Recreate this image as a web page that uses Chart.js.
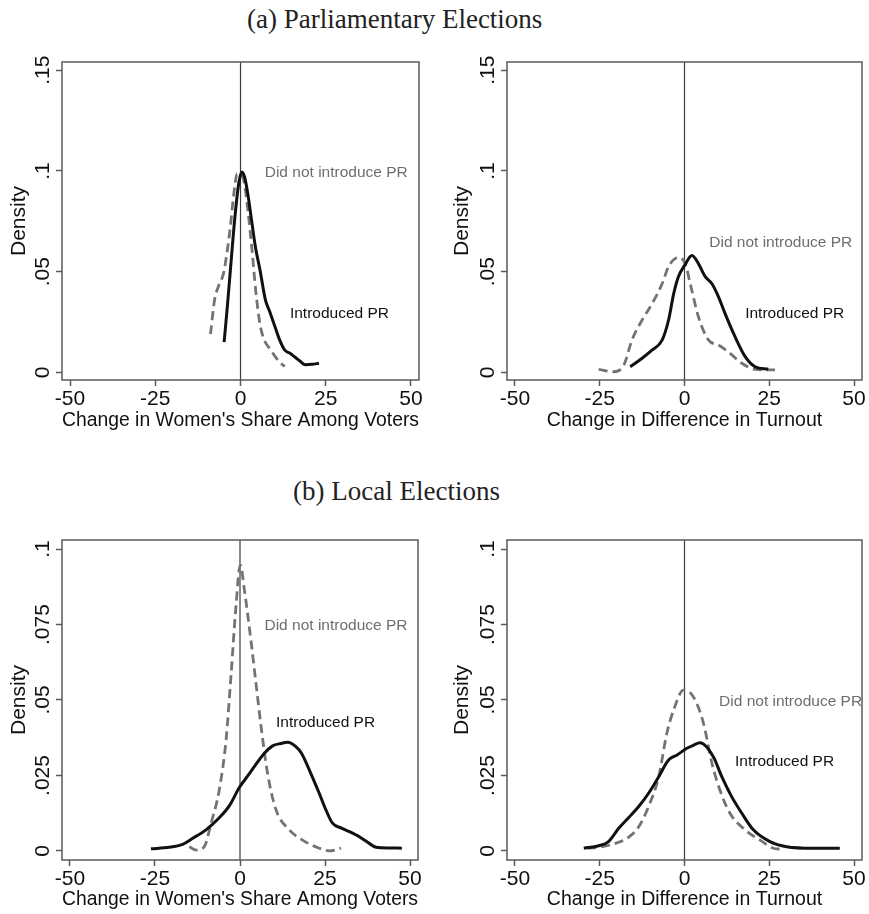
<!DOCTYPE html>
<html>
<head>
<meta charset="utf-8">
<script src="https://cdn.jsdelivr.net/npm/chart.js@4.4.1/dist/chart.umd.min.js"></script>
<style>
  body { margin: 0; background: #fff; width: 869px; height: 914px; position: relative; overflow: hidden; }
  .t { position: absolute; font-family: "Liberation Serif", serif; font-size: 27px; line-height: 27px; color: #222; white-space: nowrap; }
  canvas { position: absolute; }
</style>
</head>
<body>
<div class="t" style="left:247px;top:6px">(a) Parliamentary Elections</div>
<div class="t" style="left:293px;top:478px">(b) Local Elections</div>
<canvas id="a1" width="434" height="400" style="left:0;top:40px"></canvas>
<canvas id="a2" width="434" height="400" style="left:435px;top:40px"></canvas>
<canvas id="b1" width="434" height="394" style="left:0;top:520px"></canvas>
<canvas id="b2" width="434" height="394" style="left:435px;top:520px"></canvas>
<script>
const xTicks = [-50, -25, 0, 25, 50];
const yTicksParl = [0, 0.05, 0.1, 0.15];
const yTicksLocal = [0, 0.025, 0.05, 0.075, 0.1];
const titleShare = "Change in Women's Share Among Voters";
const titleTurnout = 'Change in Difference in Turnout';
const labelPR = 'Introduced PR';
const labelNoPR = 'Did not introduce PR';

// (a) parliamentary, women's share among voters
const parlShareX_PR = [-4.8, -4.0, -3.1, -1.7, -0.5, 0.4, 1.2, 2.2, 3.2, 4.4, 5.7, 7.3, 8.6, 10.1, 11.5, 13.0, 14.5, 16.0, 17.5, 19.0, 21.0, 23.0];
const parlShareY_PR = [0.015, 0.030, 0.048, 0.076, 0.094, 0.0995, 0.097, 0.088, 0.076, 0.062, 0.051, 0.036, 0.030, 0.0227, 0.016, 0.011, 0.0095, 0.0075, 0.0055, 0.0038, 0.004, 0.0045];
const parlShareX_NoPR = [-8.8, -7.6, -6.4, -5.0, -4.0, -3.0, -2.0, -1.0, 0.0, 1.0, 2.2, 3.3, 4.5, 5.7, 7.0, 8.5, 10.1, 11.5, 13.0];
const parlShareY_NoPR = [0.019, 0.036, 0.043, 0.049, 0.059, 0.072, 0.088, 0.0985, 0.0985, 0.095, 0.080, 0.062, 0.040, 0.024, 0.016, 0.012, 0.008, 0.005, 0.003];

// (a) parliamentary, difference in turnout
const parlTurnX_PR = [-16.0, -12.5, -9.6, -6.6, -4.7, -3.2, -1.8, 0, 2.2, 4.1, 6.1, 8.1, 10.0, 12.0, 14.9, 17.9, 20.8, 24.7];
const parlTurnY_PR = [0.0028, 0.007, 0.011, 0.016, 0.026, 0.039, 0.0475, 0.053, 0.058, 0.054, 0.0475, 0.044, 0.0376, 0.029, 0.0177, 0.0078, 0.0028, 0.0015];
const parlTurnX_NoPR = [-25.3, -20.9, -17.9, -15.5, -12.5, -9.6, -6.6, -4.7, -1.8, 0.2, 1.7, 4.1, 7.1, 10.0, 12.9, 16.9, 20.8, 26.7];
const parlTurnY_NoPR = [0.0015, 0.0003, 0.0036, 0.016, 0.026, 0.034, 0.044, 0.0525, 0.057, 0.054, 0.044, 0.0276, 0.016, 0.0136, 0.0102, 0.0045, 0.0015, 0.0012];

// (b) local, women's share among voters
const localShareX_PR = [-26.2, -20.8, -16.9, -13.9, -10.0, -6.1, -3.1, -0.2, 2.7, 4.2, 7.1, 9.6, 12.0, 14.0, 16.5, 18.0, 20.4, 23.3, 25.3, 27.2, 30.0, 32.2, 35.1, 38.0, 40.0, 44.0, 47.6];
const localShareY_PR = [0.0007, 0.0012, 0.0022, 0.0042, 0.007, 0.011, 0.015, 0.021, 0.0255, 0.0279, 0.0323, 0.0348, 0.0356, 0.036, 0.0345, 0.0325, 0.0268, 0.0191, 0.0135, 0.0092, 0.0075, 0.0064, 0.0047, 0.0025, 0.0012, 0.001, 0.0009];
const localShareX_NoPR = [-14.9, -12.9, -10.5, -8.5, -6.1, -4.1, -2.6, -1.2, 0.1, 1.3, 3.2, 4.7, 6.2, 8.1, 10.6, 14.5, 18.4, 23.3, 26.3, 29.7];
const localShareY_NoPR = [0.0014, 0.0003, 0.0014, 0.0092, 0.0202, 0.0368, 0.0588, 0.0809, 0.0947, 0.0864, 0.0699, 0.0555, 0.0412, 0.0257, 0.0136, 0.007, 0.0036, 0.0009, 0.0, 0.0009];

// (b) local, difference in turnout
const localTurnX_PR = [-29.7, -25.3, -22.4, -19.4, -16.5, -13.5, -10.6, -7.6, -4.7, -2.2, 0.7, 2.6, 4.6, 8.5, 11.0, 13.9, 16.9, 20.3, 25.2, 30.1, 37.9, 45.8];
const localTurnY_PR = [0.0009, 0.0017, 0.0031, 0.0075, 0.011, 0.0147, 0.0191, 0.0246, 0.0301, 0.0318, 0.034, 0.035, 0.0358, 0.0312, 0.0246, 0.018, 0.0125, 0.007, 0.0031, 0.0014, 0.0009, 0.0009];
const localTurnX_NoPR = [-28.7, -24.3, -20.4, -17.9, -16.5, -13.5, -10.6, -7.6, -5.2, -3.2, -0.3, 2.6, 5.6, 8.1, 10.5, 13.4, 18.4, 22.3, 26.2, 28.6];
const localTurnY_NoPR = [0.0009, 0.0014, 0.0025, 0.0036, 0.0045, 0.008, 0.0147, 0.0246, 0.039, 0.0467, 0.0533, 0.0511, 0.0423, 0.029, 0.020, 0.0125, 0.0065, 0.0036, 0.0009, 0.0006];

Chart.defaults.font.family = '"Liberation Sans", Arial, sans-serif';
Chart.defaults.color = '#111';

const pts = (xs, ys) => xs.map((x, i) => ({x, y: ys[i]}));
const fmt = v => v === 0 ? '0' : String(v).replace(/^0/, '');

// frame round the plot region + the two curve labels
const notesPlugin = {
  id: 'notes',
  afterDatasetsDraw(chart, args, opts) {
    const {ctx, chartArea: a, scales: {x, y}} = chart;
    ctx.save();
    ctx.strokeStyle = '#5a5a5a';
    ctx.lineWidth = 1.5;
    ctx.strokeRect(a.left, a.top, a.width, a.height);
    ctx.font = '15.5px "Liberation Sans"';
    ctx.textBaseline = 'middle';
    ctx.textAlign = 'left';
    opts.items.forEach(t => {
      ctx.fillStyle = t.color;
      ctx.fillText(t.text, x.getPixelForValue(t.x), y.getPixelForValue(t.y));
    });
    ctx.restore();
  }
};

function makePanel(id, p) {
  return new Chart(document.getElementById(id), {
    type: 'scatter',
    data: {
      datasets: [
        {data: pts(p.xPR, p.yPR), borderColor: '#111', borderWidth: 3, order: 1},
        {data: pts(p.xNo, p.yNo), borderColor: '#737373', borderWidth: 2.8, borderDash: [9, 5], order: 2},
        {data: pts([0, 0], [p.yMin, p.yMax]), borderColor: '#3c3c3c', borderWidth: 1.2, order: 3}
      ]
    },
    options: {
      responsive: false,
      animation: false,
      devicePixelRatio: 1,
      showLine: true,
      elements: {
        point: {radius: 0},
        line: {cubicInterpolationMode: 'monotone', borderJoinStyle: 'round'}
      },
      layout: {padding: {left: 0, top: p.top, right: p.right, bottom: 0}},
      plugins: {
        legend: {display: false},
        tooltip: {enabled: false},
        notes: {items: [
          {text: labelNoPR, x: p.noteNo[0], y: p.noteNo[1], color: '#6e6e6e'},
          {text: labelPR, x: p.notePR[0], y: p.notePR[1], color: '#111'}
        ]}
      },
      scales: {
        x: {
          type: 'linear', min: -52.35, max: 52.35,
          afterBuildTicks: s => { s.ticks = xTicks.map(v => ({value: v})); },
          afterFit: s => { s.height = p.xH; },
          ticks: {font: {size: 21}, color: '#111', padding: p.xPad, maxRotation: 0, autoSkip: false},
          grid: {drawOnChartArea: false, tickLength: 6, color: '#5a5a5a', tickWidth: 1.5},
          border: {display: false},
          title: {display: true, text: p.xTitle, font: {size: 19.5}, color: '#111', padding: {top: 0, bottom: p.xTitlePad}}
        },
        y: {
          type: 'linear', min: p.yMin, max: p.yMax,
          afterBuildTicks: s => { s.ticks = p.yTicks.map(v => ({value: v})); },
          afterFit: s => { s.width = p.yW; },
          ticks: {font: {size: 21}, color: '#111', minRotation: 90, maxRotation: 90, crossAlign: 'center', padding: p.yPad, callback: fmt},
          grid: {drawOnChartArea: false, tickLength: 6, color: '#5a5a5a', tickWidth: 1.5},
          border: {display: false},
          title: {display: true, text: 'Density', font: {size: 21}, color: '#111', padding: {top: p.yTitlePad, bottom: 0}}
        }
      }
    },
    plugins: [notesPlugin]
  });
}

makePanel('a1', {
  xPR: parlShareX_PR, yPR: parlShareY_PR, xNo: parlShareX_NoPR, yNo: parlShareY_NoPR,
  yTicks: yTicksParl, yMin: -0.0038, yMax: 0.1541, xTitle: titleShare,
  top: 22, right: 15, yW: 62, xH: 60, xPad: 1, xTitlePad: 7.3, yPad: -1.6, yTitlePad: 6.4,
  noteNo: [7.1, 0.0992], notePR: [14.5, 0.029]
});
makePanel('a2', {
  xPR: parlTurnX_PR, yPR: parlTurnY_PR, xNo: parlTurnX_NoPR, yNo: parlTurnY_NoPR,
  yTicks: yTicksParl, yMin: -0.0038, yMax: 0.1541, xTitle: titleTurnout,
  top: 22, right: 7, yW: 72, xH: 60, xPad: 1, xTitlePad: 7.3, yPad: -1.6, yTitlePad: 15,
  noteNo: [7.3, 0.0644], notePR: [17.9, 0.029]
});
makePanel('b1', {
  xPR: localShareX_PR, yPR: localShareY_PR, xNo: localShareX_NoPR, yNo: localShareY_NoPR,
  yTicks: yTicksLocal, yMin: -0.003, yMax: 0.103, xTitle: titleShare,
  top: 20, right: 16, yW: 62, xH: 54, xPad: 1, xTitlePad: 2.3, yPad: -7.4, yTitlePad: 6.4,
  noteNo: [7.2, 0.0745], notePR: [10.6, 0.0425]
});
makePanel('b2', {
  xPR: localTurnX_PR, yPR: localTurnY_PR, xNo: localTurnX_NoPR, yNo: localTurnY_NoPR,
  yTicks: yTicksLocal, yMin: -0.003, yMax: 0.103, xTitle: titleTurnout,
  top: 20, right: 7, yW: 72, xH: 54, xPad: 1, xTitlePad: 2.3, yPad: -7.4, yTitlePad: 15,
  noteNo: [10.2, 0.0494], notePR: [14.9, 0.0296]
});
</script>
</body>
</html>
